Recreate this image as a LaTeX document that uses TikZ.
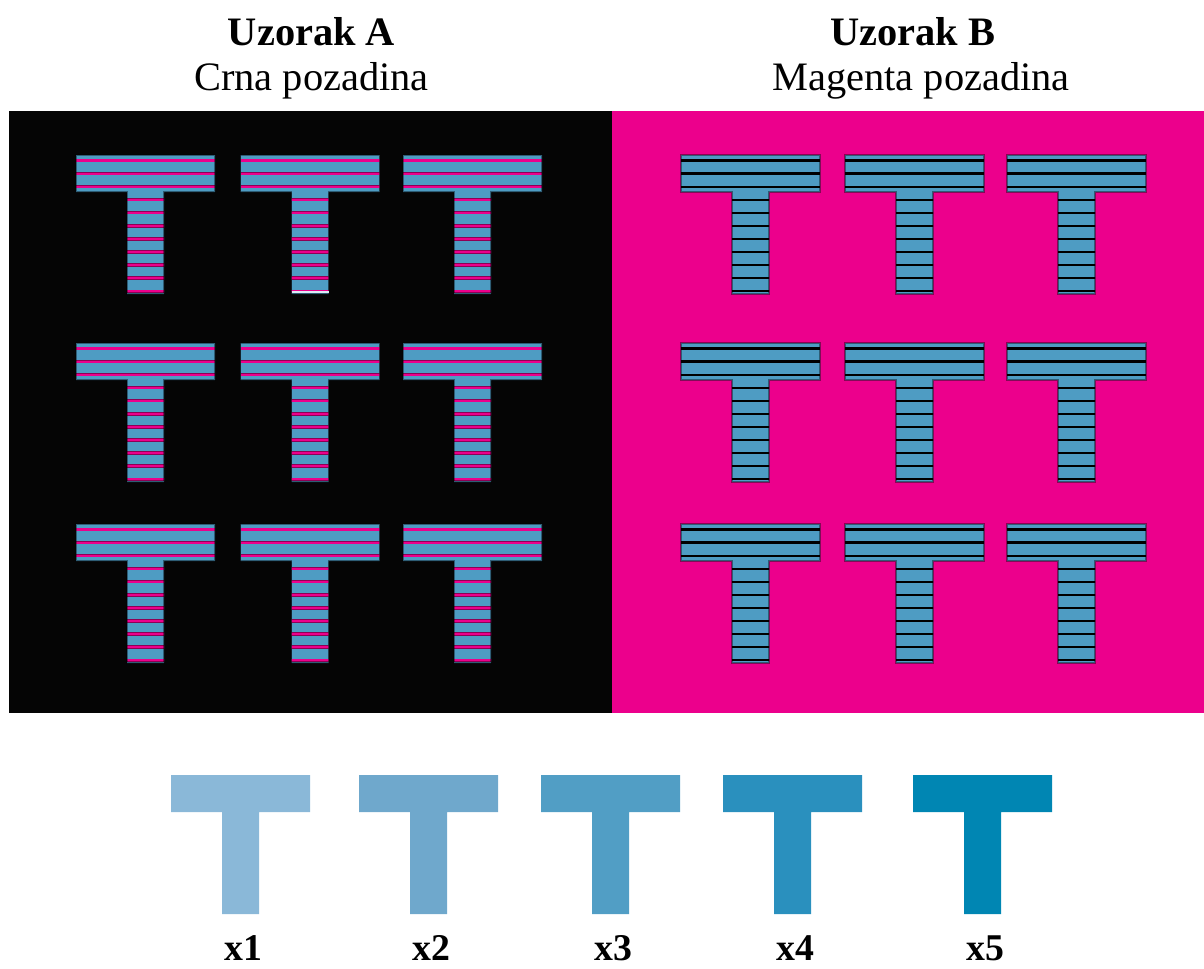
\documentclass[tikz,border=0pt]{standalone}
\usepackage{fontspec}
\setmainfont{Liberation Serif}

\definecolor{teeblue}{HTML}{4E9CC3}
\definecolor{pinkbg}{HTML}{EC008C}
\definecolor{nearblack}{HTML}{050505}
\definecolor{shadeI}{HTML}{8AB8D8}
\definecolor{shadeII}{HTML}{6FA8CC}
\definecolor{shadeIII}{HTML}{519EC5}
\definecolor{shadeIV}{HTML}{2A90BE}
\definecolor{shadeV}{HTML}{0086B3}

% outline of one T, top left corner of the bar at (0,0)
\newcommand{\teepath}{(0,0) -- (139,0) -- (139,37) -- (88,37) -- (88,139) -- (51,139) -- (51,37) -- (0,37) -- cycle}

\tikzset{
  headline/.style={font=\fontsize{23}{28}\selectfont\bfseries, anchor=base},
  subline/.style={font=\fontsize{23}{28}\selectfont, anchor=base},
  shadelabel/.style={font=\fontsize{21.5}{26}\selectfont\bfseries, anchor=base},
  stripeA/.style={draw=pinkbg, line width=1.2pt,
    preaction={draw=pinkbg!60!black, line width=1.9pt}},
  stripeB/.style={draw=black, line width=1.3pt},
  tee edge/.style={draw=black, draw opacity=0.4, line width=0.6pt},
  pics/striped tee/.style={code={
    \fill[teeblue] \teepath;
    \begin{scope}
      \clip \teepath;
      \foreach \k in {0,...,10}
        \draw[#1] (0,5.5+13.07*\k) -- (139,5.5+13.07*\k);
    \end{scope}
    \draw[tee edge] \teepath;
  }},
  pics/plain tee/.style={code={\fill[#1] \teepath;}}
}

\begin{document}
\begin{tikzpicture}[x=0.02cm, y=-0.02cm]
\useasboundingbox (0,0) rectangle (1204,968);
% Titles
\node[headline] (titleA) at (311.5,45) {Uzorak A};
\node[subline] (subA) at (311.5,90) {Crna pozadina};
\node[headline] (titleB) at (913,45) {Uzorak B};
\node[subline] (subB) at (921,90) {Magenta pozadina};
% Backgrounds
\fill[nearblack] (8.5,111) rectangle (611.5,713);
\fill[pinkbg] (611.5,111) rectangle (1204,713);
% Striped T grid on both panels
\foreach \row in {155,343,524} {
  \foreach \col in {76,240.5,403}
    \pic at (\col,\row) {striped tee=stripeA};
  \foreach \col in {681,845,1007}
    \pic at (\col,\row) {striped tee=stripeB};
}
% Light last stripe on one T
\draw[draw=white!80!teeblue, line width=1.3pt] (291.5,291.7) -- (328.5,291.7);
% Reference shades
\foreach \col/\shade/\lab [count=\i] in {171/shadeI/x1, 359/shadeII/x2, 541/shadeIII/x3, 723/shadeIV/x4, 913/shadeV/x5} {
  \pic at (\col,775) {plain tee=\shade};
  \node[shadelabel] (lab\i) at (\col+72,960) {\lab};
}
\end{tikzpicture}
\end{document}
